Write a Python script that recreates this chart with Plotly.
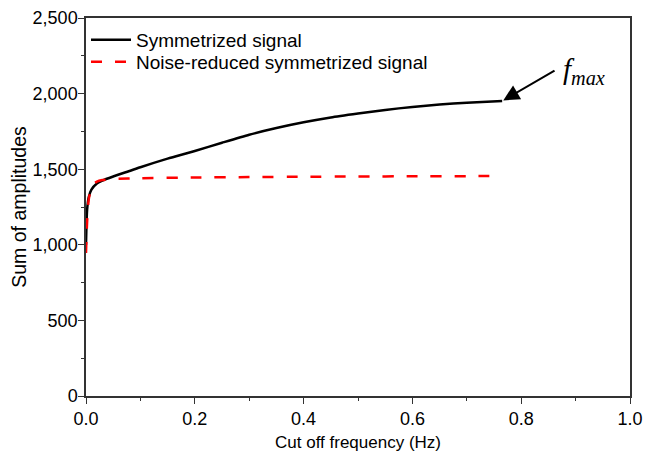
import plotly.graph_objects as go

# Symmetrized signal
sym_freq = [0, 0.002, 0.005, 0.01, 0.02, 0.03, 0.05, 0.08, 0.1, 0.15, 0.2, 0.25,
            0.3, 0.35, 0.4, 0.45, 0.5, 0.55, 0.6, 0.65, 0.7, 0.765]
sym_vals = [1000, 1230, 1315, 1365, 1405, 1425, 1452, 1488, 1513, 1570, 1620, 1675,
            1728, 1772, 1810, 1842, 1868, 1892, 1912, 1928, 1940, 1951]

# Noise-reduced symmetrized signal
nr_freq = [0, 0.002, 0.005, 0.01, 0.015, 0.02, 0.03, 0.05, 0.1, 0.2, 0.3, 0.4,
           0.5, 0.6, 0.7, 0.755]
nr_vals = [946, 1150, 1300, 1380, 1405, 1418, 1428, 1435, 1440, 1445, 1448, 1450,
           1452, 1453, 1454, 1455]

x_ticks = [0.0, 0.2, 0.4, 0.6, 0.8, 1.0]
y_ticks = [0, 500, 1000, 1500, 2000, 2500]

font = "Liberation Sans, Arial, sans-serif"

fig = go.Figure()
fig.add_trace(go.Scatter(x=sym_freq, y=sym_vals, mode="lines",
                         name="Symmetrized signal", legend="legend", showlegend=True,
                         line=dict(color="black", width=2.5, shape="spline", smoothing=0.6)))
fig.add_trace(go.Scatter(x=nr_freq, y=nr_vals, mode="lines",
                         name="Noise-reduced symmetrized signal", legend="legend2", showlegend=True,
                         line=dict(color="#ff0000", width=2.5, dash="11px,13px",
                                   shape="spline", smoothing=0.6)))

fig.add_annotation(x=0.767, y=1955, ax=0.864, ay=2158, xref="x", yref="y",
                   axref="x", ayref="y", text="", showarrow=True,
                   arrowhead=2, arrowsize=1.6, arrowwidth=2, arrowcolor="black")
fig.add_annotation(x=0.915, y=2150, xref="x", yref="y", showarrow=False,
                   text="<i>f</i><sub><i>max</i></sub>",
                   font=dict(family="Liberation Serif, DejaVu Serif, serif", size=29, color="black"))

axis_common = dict(showline=True, linecolor="#333333", linewidth=1.5, mirror=True,
                   ticks="outside", ticklen=6, tickwidth=1.3, tickcolor="#333333",
                   showgrid=False, zeroline=False, automargin=False,
                   tickfont=dict(family=font, size=18, color="black"))

fig.update_xaxes(range=[0, 1], tickvals=x_ticks, ticktext=[f"{v:.1f}" for v in x_ticks],
                 minor=dict(dtick=0.1, tick0=0, ticks="outside", ticklen=3, tickcolor="#333333"),
                 title=dict(text="Cut off frequency (Hz)", font=dict(family=font, size=17, color="black"),
                            standoff=8),
                 **axis_common)
fig.update_yaxes(range=[0, 2500], tickvals=y_ticks, ticktext=[f"{v:,}" for v in y_ticks],
                 ticklabelstandoff=-3,
                 minor=dict(dtick=250, tick0=0, ticks="outside", ticklen=3, tickcolor="#333333"),
                 title=dict(text="Sum of amplitudes", font=dict(family=font, size=19.5, color="black"),
                            standoff=1),
                 **axis_common)

legend_common = dict(x=0.0, xanchor="left", yanchor="middle", bgcolor="rgba(0,0,0,0)",
                     font=dict(family=font, size=19, color="black"), itemwidth=40)

fig.update_layout(
    width=653, height=454,
    margin=dict(l=86, r=23, t=18, b=58),
    plot_bgcolor="white", paper_bgcolor="white",
    showlegend=True,
    legend=dict(y=0.942, **legend_common),
    legend2=dict(y=0.884, **legend_common),
)

fig.write_html("out.html")
